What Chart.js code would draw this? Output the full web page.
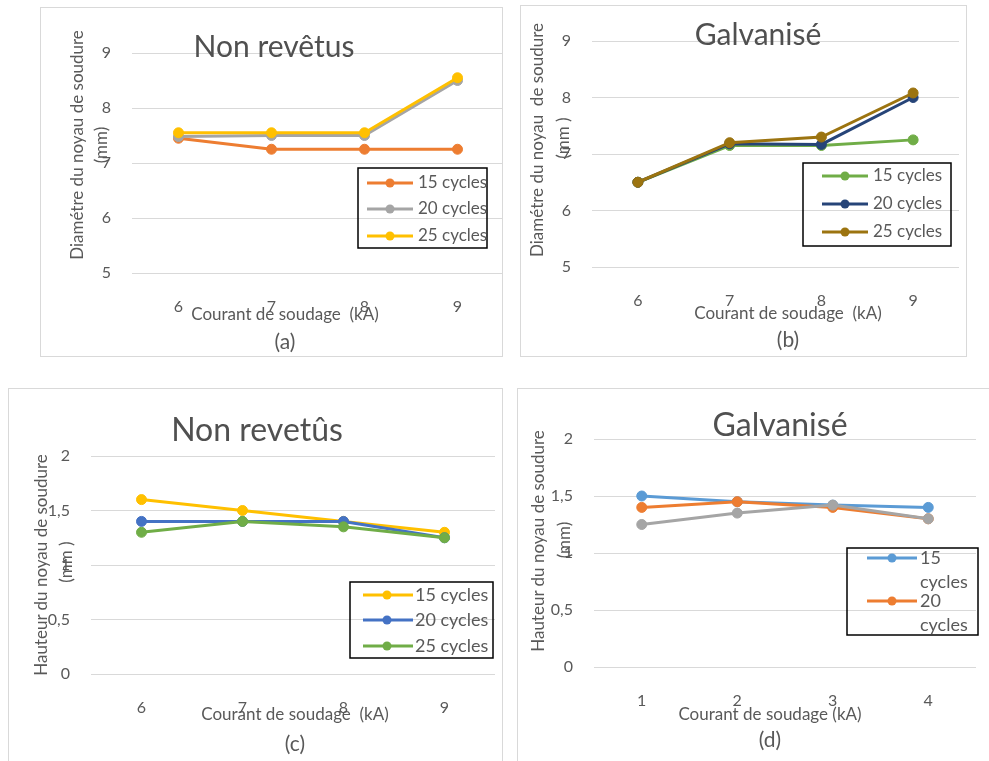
<!DOCTYPE html>
<html>
<head>
<meta charset="utf-8">
<script src="https://cdn.jsdelivr.net/npm/chart.js@4/dist/chart.umd.min.js"></script>
<style>
  body { margin:0; background:#fff; width:989px; height:761px; position:relative; overflow:hidden; font-family:Lato, "Open Sans", sans-serif; }
  .panel { position:absolute; border:1px solid #d9d9d9; overflow:hidden; background:#fff; box-sizing:border-box; }
  .panel canvas { position:absolute; left:-1px; top:-1px; }
  .txt { position:absolute; color:#595959; white-space:nowrap; transform:translate(-50%,-50%); }
  .rot { transform:translate(-50%,-50%) rotate(-90deg); }
  .ttl { color:#505050; }
</style>
</head>
<body>

<div class="panel" style="left:40px;top:7px;width:463px;height:350px"><div style="position:relative;width:470px;height:350px"><canvas id="chartA"></canvas></div></div>
<div class="panel" style="left:520px;top:5px;width:447px;height:352px"><div style="position:relative;width:447px;height:352px"><canvas id="chartB"></canvas></div></div>
<div class="panel" style="left:8px;top:388px;width:495px;height:375px"><div style="position:relative;width:495px;height:373px"><canvas id="chartC"></canvas></div></div>
<div class="panel" style="left:517px;top:388px;width:476px;height:375px"><div style="position:relative;width:472px;height:373px"><canvas id="chartD"></canvas></div></div>

<!-- (a) -->
<div class="txt ttl" style="left:274px;top:45px;font-size:30px">Non revêtus</div>
<div class="txt rot" style="left:76px;top:145px;font-size:17px">Diamétre du noyau de soudure</div>
<div class="txt rot" style="left:100px;top:145px;font-size:17px">(mm)</div>
<div class="txt" style="left:285px;top:313px;font-size:17px">Courant de soudage&nbsp; (kA)</div>
<div class="txt" style="left:285px;top:340px;font-size:21px">(a)</div>
<!-- (b) -->
<div class="txt ttl" style="left:758px;top:33px;font-size:30px">Galvanisé</div>
<div class="txt rot" style="left:536px;top:140px;font-size:17px">Diamétre du noyau&nbsp; de soudure</div>
<div class="txt rot" style="left:562px;top:138px;font-size:17px">(mm )</div>
<div class="txt" style="left:788px;top:312px;font-size:17px">Courant de soudage&nbsp; (kA)</div>
<div class="txt" style="left:788px;top:338px;font-size:21px">(b)</div>
<!-- (c) -->
<div class="txt ttl" style="left:257px;top:428px;font-size:32px">Non revetûs</div>
<div class="txt rot" style="left:40px;top:565px;font-size:17px">Hauteur du noyau de soudure</div>
<div class="txt rot" style="left:65px;top:562px;font-size:17px">(mm )</div>
<div class="txt" style="left:295px;top:713px;font-size:17px">Courant de soudage&nbsp; (kA)</div>
<div class="txt" style="left:295px;top:742px;font-size:21px">(c)</div>
<!-- (d) -->
<div class="txt ttl" style="left:780px;top:423px;font-size:32px">Galvanisé</div>
<div class="txt rot" style="left:537px;top:541px;font-size:17px">Hauteur du noyau de soudure</div>
<div class="txt rot" style="left:563px;top:540px;font-size:17px">(mm)</div>
<div class="txt" style="left:770px;top:713px;font-size:17px">Courant de soudage (kA)</div>
<div class="txt" style="left:770px;top:738px;font-size:21px">(d)</div>

<script>
// categories
var courant = ['6', '7', '8', '9'];
var courantD = ['1', '2', '3', '4'];
var cycles = ['15 cycles', '20 cycles', '25 cycles'];

// (a) diametre, non revetus
var diamNonRev15 = [7.45, 7.25, 7.25, 7.25];
var diamNonRev20 = [7.48, 7.5, 7.5, 8.5];
var diamNonRev25 = [7.55, 7.55, 7.55, 8.55];
// (b) diametre, galvanise
var diamGalv15 = [6.5, 7.15, 7.15, 7.25];
var diamGalv20 = [6.5, 7.18, 7.17, 8.0];
var diamGalv25 = [6.5, 7.2, 7.3, 8.08];
// (c) hauteur, non revetus
var hautNonRev15 = [1.6, 1.5, 1.4, 1.3];
var hautNonRev20 = [1.4, 1.4, 1.4, 1.25];
var hautNonRev25 = [1.3, 1.4, 1.35, 1.25];
// (d) hauteur, galvanise
var hautGalv15 = [1.5, 1.45, 1.42, 1.4];
var hautGalv20 = [1.4, 1.45, 1.4, 1.3];
var hautGalv25 = [1.25, 1.35, 1.42, 1.3];

// y axis ranges
var diamMin = 5, diamMax = 9, diamStep = 1;
var hautMin = 0, hautMax = 2, hautStep = 0.5;

var FONT = 'Lato, "Open Sans", sans-serif';
var TEXT = '#595959';

// legend drawn as a framed box inside the plot, like the Excel one
var boxLegend = {
  id: 'boxLegend',
  afterDraw: function(chart, args, o) {
    var ctx = chart.ctx;
    ctx.save();
    ctx.strokeStyle = '#000';
    ctx.lineWidth = 1.5;
    ctx.strokeRect(o.x, o.y, o.w, o.h);
    ctx.font = o.fontSize + 'px ' + FONT;
    ctx.textBaseline = 'middle';
    ctx.textAlign = 'left';
    for (var i = 0; i < o.count; i++) {
      var ds = chart.data.datasets[i];
      var yy = o.y + o.rows[i];
      ctx.strokeStyle = ds.borderColor;
      ctx.lineWidth = 3;
      ctx.beginPath();
      ctx.moveTo(o.x + o.line[0], yy);
      ctx.lineTo(o.x + o.line[1], yy);
      ctx.stroke();
      ctx.fillStyle = ds.borderColor;
      ctx.beginPath();
      ctx.arc(o.x + o.mark, yy, 4.5, 0, Math.PI * 2);
      ctx.fill();
      ctx.fillStyle = TEXT;
      if (o.wrap) {
        var parts = ds.label.split(' ');
        for (var k = 0; k < parts.length; k++) {
          ctx.fillText(parts[k], o.x + o.text, yy + k * o.wrap);
        }
      } else {
        ctx.fillText(ds.label, o.x + o.text, yy);
      }
    }
    ctx.restore();
  }
};

function makeChart(id, w, h, labels, series, colors, yMin, yMax, yStep, area, legend, comma) {
  var canvas = document.getElementById(id);
  canvas.parentNode.style.width = w + 'px';
  canvas.parentNode.style.height = h + 'px';
  var datasets = series.map(function(s, i) {
    return {
      label: cycles[i],
      data: s,
      borderColor: colors[i],
      backgroundColor: colors[i],
      borderWidth: 3,
      pointRadius: 5,
      pointHoverRadius: 5,
      pointBorderWidth: 1,
      order: series.length - i,
      tension: 0
    };
  });
  return new Chart(canvas.getContext('2d'), {
    type: 'line',
    data: { labels: labels, datasets: datasets },
    options: {
      responsive: true,
      maintainAspectRatio: false,
      animation: false,
      layout: { padding: { left: 0, top: area.top, right: w - area.right, bottom: 0 } },
      plugins: {
        legend: { display: false },
        tooltip: { enabled: false },
        boxLegend: legend
      },
      scales: {
        x: {
          offset: true,
          grid: { display: false, drawTicks: false },
          border: { display: false },
          ticks: { color: TEXT, font: { family: FONT, size: 16 }, padding: 24 },
          afterFit: function(s) { s.height = h - area.bottom; }
        },
        y: {
          min: yMin, max: yMax,
          grid: { color: '#d9d9d9', lineWidth: 1, drawTicks: false },
          border: { display: false },
          ticks: {
            stepSize: yStep, color: TEXT, font: { family: FONT, size: 16 }, padding: 21,
            callback: function(v) { return comma ? String(v).replace('.', ',') : v; }
          },
          afterFit: function(s) { s.width = area.left; }
        }
      }
    },
    plugins: [boxLegend]
  });
}

makeChart('chartA', 470, 350, courant, [diamNonRev15, diamNonRev20, diamNonRev25],
  ['#ED7D31', '#A5A5A5', '#FFC000'], diamMin, diamMax, diamStep,
  { left: 92, right: 469, top: 46, bottom: 266 },
  { x: 318, y: 161, w: 129, h: 80, line: [9, 55], mark: 32, text: 60, rows: [15, 41, 68], count: 3, fontSize: 17 }, false);

makeChart('chartB', 447, 352, courant, [diamGalv15, diamGalv20, diamGalv25],
  ['#70AD47', '#264478', '#9C7410'], diamMin, diamMax, diamStep,
  { left: 72, right: 439, top: 36, bottom: 262 },
  { x: 283, y: 158, w: 148, h: 83, line: [19, 65], mark: 42, text: 70, rows: [13, 41, 69], count: 3, fontSize: 17 }, false);

makeChart('chartC', 495, 373, courant, [hautNonRev15, hautNonRev20, hautNonRev25],
  ['#FFC000', '#4472C4', '#70AD47'], hautMin, hautMax, hautStep,
  { left: 83, right: 487, top: 68, bottom: 286 },
  { x: 342, y: 194, w: 143, h: 76, line: [13, 63], mark: 37, text: 65, rows: [13, 38, 64], count: 3, fontSize: 18 }, true);

makeChart('chartD', 472, 373, courantD, [hautGalv15, hautGalv20, hautGalv25],
  ['#5B9BD5', '#ED7D31', '#A5A5A5'], hautMin, hautMax, hautStep,
  { left: 77, right: 459, top: 51, bottom: 279 },
  { x: 330, y: 160, w: 131, h: 87, line: [20, 70], mark: 45, text: 73, rows: [10, 53], wrap: 24, count: 2, fontSize: 18 }, true);
</script>
</body>
</html>
